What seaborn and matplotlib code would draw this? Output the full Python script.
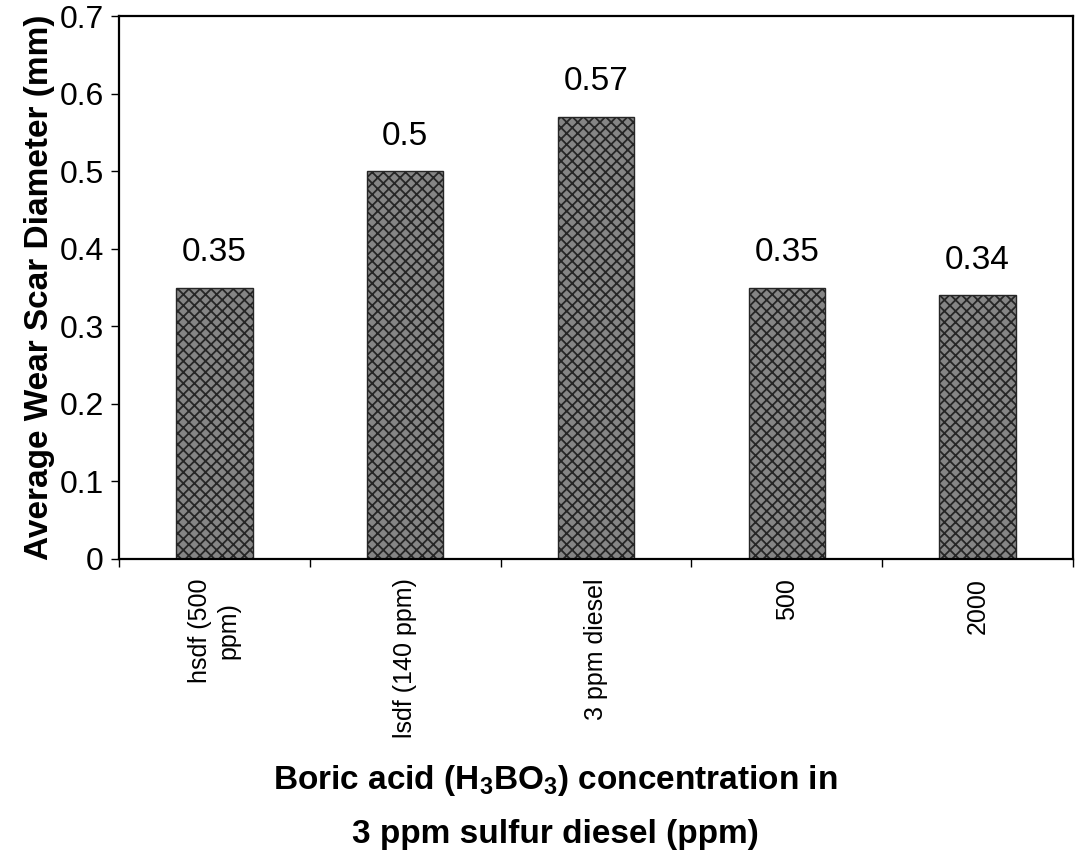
import numpy as np
import pandas as pd
import matplotlib
matplotlib.use("Agg")
import matplotlib.pyplot as plt
import seaborn as sns

categories = ["hsdf (500\nppm)", "lsdf (140 ppm)", "3 ppm diesel", "500", "2000"]
scar_diameter = [0.35, 0.50, 0.57, 0.35, 0.34]
bar_labels = ["0.35", "0.5", "0.57", "0.35", "0.34"]
yticks = [0, 0.1, 0.2, 0.3, 0.4, 0.5, 0.6, 0.7]

sns.set_style("white")
plt.rcParams["font.family"] = ["Liberation Sans", "DejaVu Sans"]
plt.rcParams["mathtext.fontset"] = "custom"
plt.rcParams["mathtext.rm"] = "Liberation Sans:bold"
plt.rcParams["mathtext.bf"] = "Liberation Sans:bold"
plt.rcParams["hatch.linewidth"] = 1.3
for k in ["text.color", "axes.labelcolor", "xtick.color", "ytick.color"]:
    plt.rcParams[k] = "black"

df = pd.DataFrame({"cat": categories, "val": scar_diameter})

fig = plt.figure(figsize=(10.78, 8.52), dpi=100)
ax = fig.add_axes([119 / 1078, 1 - 559 / 852, (1073 - 119) / 1078, (559 - 16) / 852])

sns.barplot(data=df, x="cat", y="val", ax=ax, color="#858585", width=0.4,
            saturation=1, edgecolor="#262626", linewidth=1.0)
for p in ax.patches:
    p.set_hatch("xxx")

for p, lab in zip(ax.patches, bar_labels):
    ax.text(p.get_x() + p.get_width() / 2, p.get_height() + 0.025, lab,
            ha="center", va="bottom", fontsize=24)

ax.set_ylim(0, 0.7)
ax.set_xlim(-0.5, len(categories) - 0.5)
ax.set_yticks(yticks)
ax.set_yticklabels([f"{t:g}" for t in yticks], fontsize=23)
ax.tick_params(axis="y", direction="out", length=6, width=1, left=True, pad=5)

ax.set_xticks(range(len(categories)))
ax.set_xticklabels(categories, rotation=90, fontsize=18, va="top", ha="center",
                   multialignment="center")
ax.tick_params(axis="x", which="major", length=0, pad=14)
ax.set_xticks(np.arange(-0.5, len(categories), 1), minor=True)
ax.tick_params(axis="x", which="minor", direction="out", length=6, width=1, bottom=True)

for s in ax.spines.values():
    s.set_visible(True)
    s.set_color("black")
    s.set_linewidth(1.6)

ax.set_ylabel("Average Wear Scar Diameter (mm)", fontsize=24, fontweight="bold", labelpad=3)
ax.set_xlabel("")
# x label drawn as two lines, centred a little left of the axes centre as in the source
fig.text(555 / 1078, 1 - 781 / 852, "Boric acid (H$_3$BO$_3$) concentration in",
         ha="center", va="center", fontsize=24, fontweight="bold")
fig.text(555 / 1078, 1 - 835 / 852, "3 ppm sulfur diesel (ppm)",
         ha="center", va="center", fontsize=24, fontweight="bold")

fig.savefig("out.png", dpi=100)
